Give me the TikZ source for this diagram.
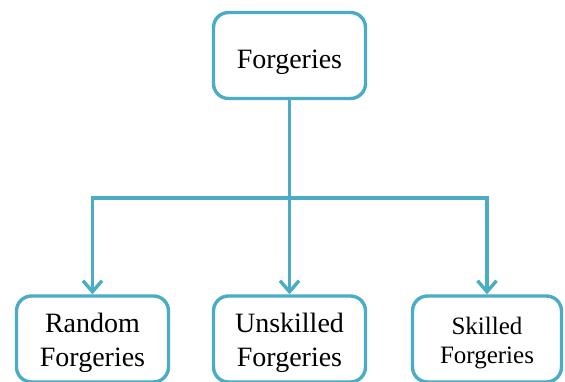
\documentclass[tikz,border=0pt]{standalone}
\usepackage{fontspec}
\setmainfont{Liberation Serif}
\usetikzlibrary{arrows.meta}
\definecolor{acc}{HTML}{4BACC6}
\begin{document}
\begin{tikzpicture}[x=1pt,y=-1pt,
  box/.style={draw=acc,line width=3.4pt,rounded corners=15pt,fill=white,
    inner sep=0pt,align=center,font=\fontsize{28}{34}\selectfont,text depth=0pt},
  arr/.style={draw=acc,line width=3.4pt,-{Straight Barb[length=11pt,width=19pt,line width=3.4pt]}},
  line/.style={draw=acc,line width=3.4pt}]
\clip (0,0) rectangle (565,381);
\fill[white] (0,0) rectangle (565,381);
\node[box,minimum width=152pt,minimum height=86pt,text height=25pt] (top) at (289.5,55.5) {Forgeries};
\node[box,minimum width=152pt,minimum height=86pt,text height=54pt] (left) at (92.5,339) {Random\\Forgeries};
\node[box,minimum width=152pt,minimum height=86pt,text height=54pt] (mid) at (289.5,339) {Unskilled\\Forgeries};
\node[box,minimum width=149pt,minimum height=86pt,text height=49pt,font=\fontsize{25}{29}\selectfont] (right) at (487,339) {Skilled\\Forgeries};
\coordinate (bus) at (289.5,198);
\draw[line] (top.south) -- (bus);
\draw[arr] (bus) -| (left.north);
\draw[arr] (bus) -| (right.north);
\draw[arr] (bus) -- (mid.north);
\end{tikzpicture}
\end{document}
